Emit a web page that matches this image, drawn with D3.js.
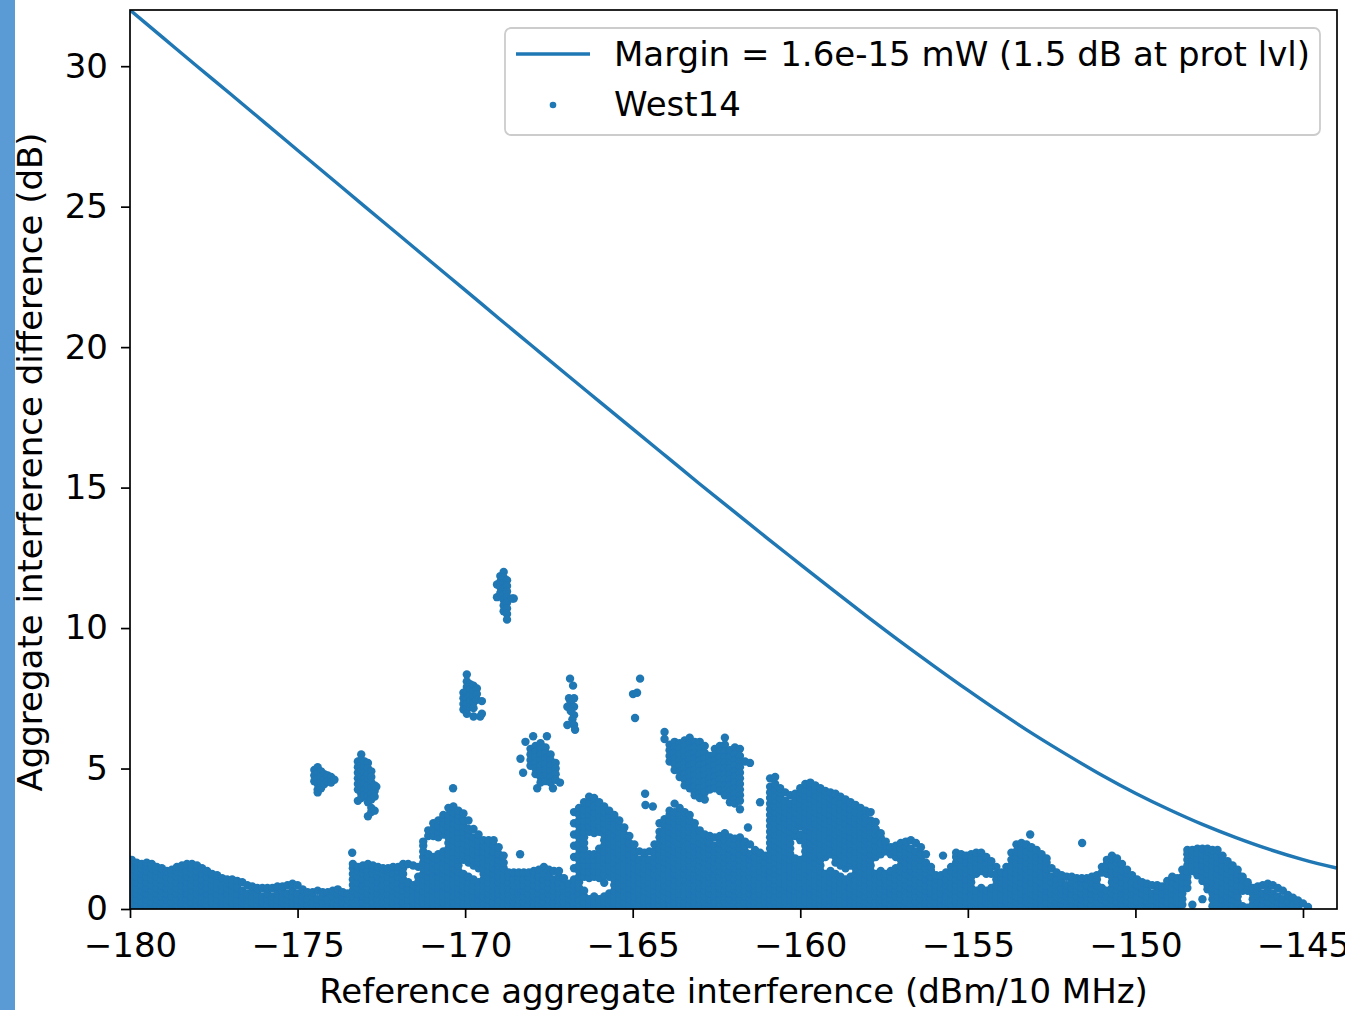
<!DOCTYPE html>
<html>
<head>
<meta charset="utf-8">
<script src="https://cdn.jsdelivr.net/npm/d3@7"></script>
<style>
  html, body { margin: 0; padding: 0; background: #ffffff; }
  svg { display: block; font-family: "DejaVu Sans", sans-serif; }
</style>
</head>
<body>
<svg id="chart" width="1345" height="1010"></svg>
<script>
// ---- axis ticks ----
const xTicks = [-180, -175, -170, -165, -160, -155, -150, -145];
const yTicks = [0, 5, 10, 15, 20, 25, 30];

// ---- margin curve (dB above reference, per 1 dB of reference level) ----
const marginX = [-180,-179,-178,-177,-176,-175,-174,-173,-172,-171,-170,-169,-168,-167,-166,-165,-164,-163,-162,-161,-160,-159,-158,-157,-156,-155,-154,-153,-152,-151,-150,-149,-148,-147,-146,-145,-144];
const marginY = [32.00,31.00,30.00,29.01,28.01,27.01,26.01,25.01,24.02,23.02,22.03,21.03,20.04,19.05,18.07,17.09,16.11,15.13,14.17,13.21,12.27,11.33,10.41,9.51,8.64,7.79,6.97,6.19,5.46,4.76,4.12,3.54,3.01,2.54,2.12,1.76,1.46];

// ---- West14 samples: dense low band, one column per reference level [x, y1, y2, ...] ----
const bandColumns = [
[-179.95,.05,.25,.45,.65,.85,1.05,1.25,1.45,1.65,1.75],
[-179.8,.15,.35,.55,.75,.95,1.15,1.35,1.55,1.65],
[-179.65,.05,.25,.45,.65,.85,1.05,1.25,1.45,1.6],
[-179.5,.15,.35,.55,.75,.95,1.15,1.35,1.55,1.65],
[-179.35,.05,.25,.45,.65,.85,1.05,1.25,1.45,1.6],
[-179.2,.15,.35,.55,.75,.95,1.15,1.35,1.5],
[-179.05,.05,.25,.45,.65,.85,1.05,1.25,1.45],
[-178.9,.15,.35,.55,.75,.95,1.15,1.35],
[-178.75,.05,.25,.45,.65,.85,1.05,1.25,1.4],
[-178.6,.15,.35,.55,.75,.95,1.15,1.35,1.5],
[-178.45,.05,.25,.45,.65,.85,1.05,1.25,1.45,1.55],
[-178.3,.15,.35,.55,.75,.95,1.15,1.35,1.6],
[-178.15,.05,.25,.45,.65,.85,1.05,1.25,1.45,1.6],
[-178,.15,.35,.55,.75,.95,1.15,1.35,1.55],
[-177.85,.05,.25,.45,.65,.85,1.05,1.25,1.45],
[-177.7,.15,.35,.55,.75,.95,1.15,1.35],
[-177.55,.05,.25,.45,.65,.85,1.05,1.25],
[-177.4,.15,.35,.55,.75,.95,1.2],
[-177.25,.05,.25,.45,.65,.85,1.1],
[-177.1,.15,.35,.55,.75,.95,1.05],
[-176.95,.05,.25,.45,.65,.85,1.05],
[-176.8,.15,.35,.55,.75,1],
[-176.65,.05,.25,.45,.65,.95],
[-176.5,.15,.35,.55,.85],
[-176.35,.05,.25,.45,.65,.8],
[-176.2,.15,.35,.55,.75],
[-176.05,.05,.25,.45,.75],
[-175.9,.15,.35,.55,.75],
[-175.75,.05,.25,.45,.75],
[-175.6,.15,.35,.55,.8],
[-175.45,.05,.25,.45,.65,.8],
[-175.3,.15,.35,.55,.85],
[-175.15,.05,.25,.45,.65,.9],
[-175,.15,.35,.55,.85],
[-174.85,.05,.25,.45,.7],
[-174.7,.15,.35,.6],
[-174.55,.05,.25,.45,.6],
[-174.4,.15,.35,.65],
[-174.25,.05,.25,.45,.6],
[-174.1,.15,.35,.6],
[-173.95,.05,.25,.45,.65],
[-173.8,.15,.35,.55,.7],
[-173.65,.05,.25,.45,.6],
[-173.5,.15,.35,.55],
[-173.35,.05,.25,.45,.65,.85,1.05,1.25,1.45,1.6],
[-173.2,.15,.35,.55,.75,.95,1.15,1.35,1.5],
[-173.05,.05,.25,.45,.65,.85,1.05,1.25,1.45,1.55],
[-172.9,.15,.35,.55,.75,.95,1.15,1.35,1.6],
[-172.75,.05,.25,.45,.65,.85,1.05,1.25,1.45,1.55],
[-172.6,.15,.35,.55,.75,.95,1.15,1.35,1.5],
[-172.45,.05,.25,.45,.65,.85,1.05,1.25,1.45],
[-172.3,.15,.35,.55,.75,.95,1.15,1.35,1.45],
[-172.15,.05,.25,.45,.65,.85,1.05,1.25,1.5],
[-172,.15,.35,.55,.75,.95,1.15,1.35,1.5],
[-171.85,.05,.25,.45,.65,.85,1.05,1.25,1.45,1.6],
[-171.7,.15,.35,.55,.75,.95,1.6],
[-171.55,.05,.25,.45,.65,.85,1.55],
[-171.4,.15,.35,.55,.75,.95,1.15,1.5],
[-171.25,.05,.25,.45,.65,.85,1.05,1.25,1.45,1.65,1.85,2.05,2.25,2.4],
[-171.1,.15,.35,.55,.75,.95,1.15,1.35,1.55,1.75,1.95,2.6,2.8],
[-170.95,.05,.25,.45,.65,.85,1.05,1.25,1.45,1.65,1.85,2.6,2.85,3.05],
[-170.8,.15,.35,.55,.75,.95,1.15,1.35,1.55,1.75,1.95,2.55,2.75,2.95,3.15],
[-170.65,.05,.25,.45,.65,.85,1.05,1.25,1.45,1.65,1.85,2.05,2.65,2.85,3.05,3.25,3.35],
[-170.5,.15,.35,.55,.75,.95,1.15,1.35,1.55,1.75,1.95,2.15,2.35,2.55,2.75,2.95,3.15,3.35,3.6],
[-170.35,.05,.25,.45,.65,.85,1.05,1.25,1.45,1.65,1.85,2.05,2.25,2.45,2.65,2.85,3.05,3.25,3.45,3.65],
[-170.2,.15,.35,.55,.75,.95,1.15,1.35,1.55,1.75,1.95,2.15,2.35,2.55,2.75,2.95,3.15,3.35,3.5],
[-170.05,.05,.25,.45,.65,.85,1.05,1.25,1.75,1.95,2.15,2.35,2.55,2.75,2.95,3.15,3.4],
[-169.9,.15,.35,.55,.75,.95,1.15,1.65,1.85,2.05,2.25,2.45,2.65,2.85,3.15],
[-169.75,.05,.25,.45,.65,.85,1.05,1.55,1.75,1.95,2.15,2.35,2.55,2.85],
[-169.6,.15,.35,.55,.75,.95,1.45,1.65,1.85,2.05,2.25,2.45,2.65],
[-169.45,.05,.25,.45,.65,.85,1.05,1.25,1.45,1.65,1.85,2.05,2.25,2.45],
[-169.3,.15,.35,.55,.75,.95,1.15,1.35,1.55,1.75,1.95,2.15,2.35,2.45],
[-169.15,.05,.25,.45,.65,.85,1.05,1.25,1.45,1.65,1.85,2.05,2.25,2.45],
[-169,.15,.35,.55,.75,.95,1.15,1.35,1.55,1.75,1.95,2.2],
[-168.85,.05,.25,.45,.65,.85,1.05,1.25,1.45,1.65,1.9],
[-168.7,.15,.35,.55,.75,.95,1.15,1.3],
[-168.55,.05,.25,.45,.65,.85,1.05,1.3],
[-168.4,.15,.35,.55,.75,.95,1.15,1.3],
[-168.25,.05,.25,.45,.65,.85,1.05,1.3],
[-168.1,.15,.35,.55,.75,.95,1.15,1.3],
[-167.95,.05,.25,.45,.65,.85,1.05,1.25,1.35],
[-167.8,.15,.35,.55,.75,.95,1.15,1.4],
[-167.65,.05,.25,.45,.65,.85,1.05,1.25,1.5],
[-167.5,.15,.35,.55,.75,.95,1.15,1.4],
[-167.35,.05,.25,.45,.65,.85,1.05,1.35],
[-167.2,.15,.35,.55,.75,.95,1.15,1.35],
[-167.05,.05,.25,.45,.65,.85,1.1],
[-166.9,.15,.35,.55,.75,.9],
[-166.75,.05,.25,.45,.65,.85,1.05,1.45,1.85,2.25,2.65,3.05,3.45],
[-166.6,.15,.35,.55,.75,.95,1.15,1.35,1.55,1.75,1.95,2.15,2.35,2.55,2.75,2.95,3.15,3.35,3.6],
[-166.45,.05,.25,.45,.65,1.15,1.35,1.55,1.75,1.95,2.15,2.35,2.55,2.75,2.95,3.15,3.35,3.55,3.8],
[-166.3,.15,.35,1.1,1.35,1.55,1.75,1.95,2.75,2.95,3.15,3.35,3.55,3.75,4],
[-166.15,.05,.25,.45,1.15,1.35,1.55,1.75,1.95,2.7,2.9,3.05,3.25,3.45,3.65,3.85,3.95],
[-166,.15,.35,1.1,1.35,1.55,1.75,1.95,2.15,2.75,2.95,3.15,3.35,3.55,3.8],
[-165.85,.05,.25,.45,.93,1.2,1.45,1.65,1.85,2.05,2.25,2.45,2.65,2.85,3.05,3.25,3.45,3.65],
[-165.7,.15,.35,.55,1.15,1.35,1.55,1.75,1.95,2.15,2.35,2.55,2.75,2.95,3.15,3.35,3.5],
[-165.55,.05,.25,.45,.65,.85,1.05,1.25,1.45,1.65,1.85,2.05,2.25,2.45,2.65,2.85,3.05,3.25,3.35],
[-165.4,.15,.35,.55,.75,.95,1.15,1.35,1.55,1.75,1.95,2.15,2.35,2.55,2.75,2.95,3.15],
[-165.25,.05,.25,.45,.65,.85,1.05,1.25,1.45,1.65,1.85,2.05,2.25,2.45,2.65,2.9],
[-165.1,.15,.35,.55,.75,.95,1.15,1.35,1.55,1.75,1.95,2.15,2.35,2.6],
[-164.95,.05,.25,.45,.65,.85,1.05,1.25,1.45,1.65,1.85,2.05,2.3],
[-164.8,.15,.35,.55,.75,.95,1.15,1.35,1.55,1.75,2.05],
[-164.65,.05,.25,.45,.65,.85,1.05,1.25,1.45,1.65,1.85,2],
[-164.5,.15,.35,.55,.75,.95,1.15,1.35,1.55,1.75,2.05],
[-164.35,.05,.25,.45,.65,.85,1.05,1.25,1.45,1.65,1.85,2.05,2.3],
[-164.2,.15,.35,.55,.75,.95,1.15,1.35,1.55,1.75,1.95,2.15,2.35,2.55,2.75,3.05],
[-164.05,.05,.25,.45,.65,.85,1.05,1.25,1.45,1.65,1.85,2.05,2.25,2.45,2.65,2.85,3.05,3.2],
[-163.9,.15,.35,.55,.75,.95,1.15,1.35,1.55,1.75,1.95,2.15,2.35,2.55,2.75,2.95,3.15,3.35,3.5],
[-163.75,.05,.25,.45,.65,.85,1.05,1.25,1.45,1.65,1.85,2.05,2.25,2.45,2.65,2.85,3.05,3.25,3.45,3.75],
[-163.6,.15,.35,.55,.75,.95,1.15,1.35,1.55,1.75,1.95,2.15,2.35,2.55,2.75,2.95,3.15,3.35,3.6],
[-163.45,.05,.25,.45,.65,.85,1.05,1.25,1.45,1.65,1.85,2.05,2.25,2.45,2.65,2.85,3.05,3.25,3.45],
[-163.3,.15,.35,.55,.75,.95,1.15,1.35,1.55,1.75,1.95,2.15,2.35,2.55,2.75,2.95,3.15,3.35],
[-163.15,.05,.25,.45,.65,.85,1.05,1.25,1.45,1.65,1.85,2.05,2.25,2.45,2.65,2.85,3.05],
[-163,.15,.35,.55,.75,.95,1.15,1.35,1.55,1.75,1.95,2.15,2.35,2.55,2.8],
[-162.85,.05,.25,.45,.65,.85,1.05,1.25,1.45,1.65,1.85,2.05,2.25,2.45,2.65],
[-162.7,.15,.35,.55,.75,.95,1.15,1.35,1.55,1.75,1.95,2.15,2.35,2.6],
[-162.55,.05,.25,.45,.65,.85,1.05,1.25,1.45,1.65,1.85,2.05,2.25,2.55],
[-162.4,.15,.35,.55,.75,.95,1.15,1.35,1.55,1.75,1.95,2.15,2.35,2.6],
[-162.25,.05,.25,.45,.65,.85,1.05,1.25,1.45,1.65,1.85,2.05,2.25,2.45,2.7],
[-162.1,.15,.35,.55,.75,.95,1.15,1.35,1.55,1.75,1.95,2.15,2.35,2.55],
[-161.95,.05,.25,.45,.65,.85,1.05,1.25,1.45,1.65,1.85,2.05,2.25,2.5],
[-161.8,.15,.35,.55,.75,.95,1.15,1.35,1.55,1.75,1.95,2.15,2.35,2.55],
[-161.65,.05,.25,.45,.65,.85,1.05,1.25,1.45,1.65,1.85,2.05,2.25,2.4],
[-161.5,.15,.35,.55,.75,.95,1.15,1.35,1.55,1.75,1.95,2.3],
[-161.35,.05,.25,.45,.65,.85,1.05,1.25,1.45,1.65,1.85,2.1],
[-161.2,.15,.35,.55,.75,.95,1.15,1.35,1.55,1.75,2],
[-161.05,.05,.25,.45,.65,.85,1.05,1.25,1.45,1.65,1.9],
[-160.9,.15,.35,.55,.75,.95,1.15,1.35,1.55,1.75,1.95,2.15,2.35,2.55,2.75,2.95,3.15,3.35,3.55,3.75,3.95,4.15,4.35,4.65],
[-160.75,.05,.25,.45,.65,.85,1.05,1.25,1.45,1.65,1.85,2.05,2.25,2.45,2.65,2.85,3.05,3.25,3.45,3.65,3.85,4.05,4.25,4.45,4.7],
[-160.6,.15,.35,.55,.75,.95,1.15,1.35,1.55,1.75,1.95,2.15,2.35,2.55,2.75,2.95,3.15,3.35,3.55,3.75,3.95,4.15,4.3],
[-160.45,.05,.25,.45,.65,.85,1.05,1.25,1.45,1.65,1.85,2.05,2.25,2.45,2.65,2.85,3.05,3.25,3.45,3.65,3.85,4.15],
[-160.3,.15,.35,.55,.75,.95,1.15,1.35,1.55,1.75,1.95,2.15,2.35,2.55,2.75,2.95,3.15,3.35,3.55,3.75,4.05],
[-160.15,.05,.25,.45,.65,.85,1.05,1.25,1.45,1.65,1.8,2.6,2.85,3.05,3.25,3.45,3.65,3.85,4.1],
[-160,.15,.35,.55,.75,.95,1.15,1.35,1.55,1.75,2.45,2.65,2.95,3.15,3.35,3.55,3.75,3.95,4.15,4.3],
[-159.85,.05,.25,.45,.65,.85,1.05,1.25,1.45,1.65,1.85,2.05,2.25,2.45,2.65,2.85,3.05,3.25,3.45,3.65,3.85,4.05,4.25,4.45],
[-159.7,.15,.35,.55,.75,.95,1.15,1.35,1.55,1.75,1.95,2.15,2.35,2.55,2.75,2.95,3.15,3.35,3.55,3.75,3.95,4.15,4.35,4.5],
[-159.55,.05,.25,.45,.65,.85,1.05,1.25,1.45,1.65,1.85,2.05,2.25,2.45,2.65,2.85,3.05,3.25,3.45,3.65,3.85,4.05,4.25,4.4],
[-159.4,.15,.35,.55,.75,.95,1.15,1.35,1.55,1.75,1.95,2.15,2.35,2.55,2.75,2.95,3.15,3.35,3.55,3.75,3.95,4.15,4.3],
[-159.25,.05,.25,.45,.65,.85,1.05,1.25,1.85,2.05,2.25,2.45,2.65,2.85,3.05,3.25,3.45,3.65,3.85,4.05,4.2],
[-159.1,.15,.35,.55,.75,.95,1.15,1.35,1.95,2.15,2.35,2.55,2.75,2.95,3.15,3.35,3.55,3.75,3.95,4.15],
[-158.95,.05,.25,.45,.65,.85,1.05,1.25,1.65,1.85,2.05,2.25,2.45,2.65,2.85,3.05,3.25,3.45,3.65,3.85,4.1],
[-158.8,.15,.35,.55,.75,.95,1.15,1.55,1.75,1.95,2.15,2.35,2.55,2.75,2.95,3.15,3.35,3.55,3.75,4],
[-158.65,.05,.25,.45,.65,.85,1.05,1.45,1.65,1.85,2.05,2.25,2.45,2.65,2.85,3.05,3.25,3.45,3.65,3.9],
[-158.5,.15,.35,.55,.75,.95,1.15,1.55,1.75,1.95,2.15,2.35,2.55,2.75,2.95,3.15,3.35,3.55,3.8],
[-158.35,.05,.25,.45,.65,.85,1.05,1.25,1.45,1.65,1.85,2.05,2.25,2.45,2.65,2.85,3.05,3.25,3.45,3.7],
[-158.2,.15,.35,.55,.75,.95,1.15,1.35,1.55,1.75,1.95,2.15,2.35,2.55,2.75,2.95,3.15,3.35,3.6],
[-158.05,.05,.25,.45,.65,.85,1.05,1.25,1.45,1.65,1.85,2.05,2.25,2.45,2.65,2.85,3.05,3.25,3.5],
[-157.9,.15,.35,.55,.75,.95,1.15,1.35,1.55,1.75,1.95,2.15,2.35,2.55,2.75,2.95,3.15,3.45],
[-157.75,.05,.25,.45,.65,.85,1.05,1.25,1.85,2.05,2.25,2.45,2.65,2.85,3.1],
[-157.6,.15,.35,.55,.75,.95,1.15,1.35,1.95,2.15,2.35,2.55,2.7],
[-157.45,.05,.25,.45,.65,.85,1.05,1.25,2.05,2.25,2.4],
[-157.3,.15,.35,.55,.75,.95,1.15,1.35,1.95,2.2],
[-157.15,.05,.25,.45,.65,.85,1.05,1.25,1.45,1.85,2.05,2.25],
[-157,.15,.35,.55,.75,.95,1.15,1.35,1.55,1.75,1.95,2.15,2.35],
[-156.85,.05,.25,.45,.65,.85,1.05,1.25,1.45,1.65,1.85,2.05,2.25,2.4],
[-156.7,.15,.35,.55,.75,.95,1.15,1.35,1.55,1.75,1.95,2.15,2.45],
[-156.55,.05,.25,.45,.65,.85,1.05,1.25,1.45,1.65,1.85,2.05,2.35],
[-156.4,.15,.35,.55,.75,.95,1.15,1.35,1.55,1.75,1.95,2.2],
[-156.25,.05,.25,.45,.65,.85,1.05,1.25,1.45,1.65,1.95],
[-156.1,.15,.35,.55,.75,.95,1.15,1.35,1.5],
[-155.95,.05,.25,.45,.65,.85,1.05,1.2],
[-155.8,.15,.35,.55,.75,.95,1.2],
[-155.65,.05,.25,.45,.65,.85,1.05,1.3],
[-155.5,.15,.35,.55,.75,.95,1.15,1.35,1.5],
[-155.35,.05,.25,.45,.65,.85,1.05,1.25,1.45,1.65,1.85,2],
[-155.2,.15,.35,.55,.75,.95,1.15,1.35,1.55,1.75,1.95],
[-155.05,.05,.25,.45,.65,.85,1.05,1.25,1.45,1.65,1.9],
[-154.9,.15,.35,.55,.75,.95,1.15,1.35,1.55,1.75,1.95],
[-154.75,.05,.25,.45,.65,1.25,1.45,1.65,1.85,2],
[-154.6,.15,.35,.55,.75,1.35,1.55,1.75,2],
[-154.45,.05,.25,.45,.65,1.25,1.45,1.65,1.85],
[-154.3,.15,.35,.55,.75,1.25,1.5,1.7],
[-154.15,.05,.25,.45,.65,.85,1.05,1.25,1.5],
[-154,.15,.35,.55,.75,.95,1.15,1.3],
[-153.85,.05,.25,.45,.65,.85,1.05,1.25,1.5],
[-153.7,.15,.35,.55,.75,.95,1.15,1.35,1.55,1.75,2],
[-153.55,.05,.25,.45,.65,.85,1.05,1.25,1.45,1.65,1.85,2.05,2.3],
[-153.4,.15,.35,.55,.75,.95,1.15,1.35,1.55,1.75,1.95,2.15,2.35],
[-153.25,.05,.25,.45,.65,.85,1.05,1.25,1.45,1.65,1.85,2.05,2.3],
[-153.1,.15,.35,.55,.75,.95,1.15,1.35,1.55,1.75,1.95,2.2],
[-152.95,.05,.25,.45,.65,.85,1.05,1.25,1.45,1.65,1.85,2.1],
[-152.8,.15,.35,.55,.75,.95,1.15,1.35,1.55,1.75,1.95],
[-152.65,.05,.25,.45,.65,.85,1.05,1.25,1.45,1.65,1.8],
[-152.5,.15,.35,.55,.75,.95,1.15,1.45],
[-152.35,.05,.25,.45,.65,.85,1.05,1.3],
[-152.2,.15,.35,.55,.75,.95,1.2],
[-152.05,.05,.25,.45,.65,.85,1.15],
[-151.9,.15,.35,.55,.75,.95,1.15],
[-151.75,.05,.25,.45,.65,.85,1.1],
[-151.6,.15,.35,.55,.75,.95,1.1],
[-151.45,.05,.25,.45,.65,.85,1.1],
[-151.3,.15,.35,.55,.75,.95,1.15],
[-151.15,.05,.25,.45,.65,.85,1.05,1.2],
[-151,.15,.35,.55,.75,1.3,1.5],
[-150.85,.05,.25,.45,.65,1.25,1.45,1.6,1.75],
[-150.7,.15,.35,.55,.75,.95,1.15,1.35,1.55,1.75,1.9],
[-150.55,.05,.25,.45,.65,.85,1.05,1.25,1.45,1.65,1.8],
[-150.4,.15,.35,.55,.75,.95,1.15,1.35,1.6],
[-150.25,.05,.25,.45,.65,.85,1.05,1.25,1.4],
[-150.1,.15,.35,.55,.75,.95,1.2],
[-149.95,.05,.25,.45,.65,.85,1.05],
[-149.8,.15,.35,.55,.75,.95],
[-149.65,.05,.25,.45,.65,.9],
[-149.5,.15,.35,.55,.85],
[-149.35,.05,.25,.45,.65,.85],
[-149.2,.15,.35,.55,.8],
[-149.05,.05,.25,.45,.65,.85,1],
[-148.9,.15,.35,.55,.75,.95,1.15],
[-148.75,.05,.25,.45,.65,.85,1.1],
[-148.6,.15,.35,.55,.75,.95,1.15,1.4],
[-148.45,.75,.95,1.15,1.35,1.55,1.75,1.95,2.1],
[-148.3,.15,1.35,1.55,1.75,1.95,2.1],
[-148.15,1.2,1.4,1.6,1.8,2,2.15],
[-148,.35,1.0,1.15,1.35,1.55,1.75,1.95,2.15],
[-147.85,.7,.85,1.05,1.25,1.45,1.65,1.85,2.05,2.15],
[-147.7,.1,.35,.55,.75,.95,1.15,1.35,1.55,1.75,1.95,2.1],
[-147.55,.05,.25,.45,.65,.85,1.05,1.25,1.45,1.65,1.85,2.1],
[-147.4,.15,.35,.55,.75,.95,1.15,1.35,1.55,1.75,1.9],
[-147.25,.05,.25,.45,.65,.85,1.05,1.25,1.45,1.7],
[-147.1,.15,.35,.55,.75,.95,1.15,1.35,1.55],
[-146.95,.05,.25,.45,.65,.85,1.05,1.25,1.4],
[-146.8,.1,.65,.85,1.05,1.15],
[-146.65,.05,.65,.85,.95],
[-146.5,.15,.35,.55,.75],
[-146.35,.05,.25,.45,.65,.8],
[-146.2,.15,.35,.55,.85],
[-146.05,.05,.25,.45,.65,.9],
[-145.9,.15,.35,.55,.85],
[-145.75,.05,.25,.45,.75],
[-145.6,.15,.35,.65],
[-145.45,.05,.25,.5],
[-145.3,.15,.4],
[-145.15,.05,.3],
[-145,.2],
[-144.85,.07]
];

// ---- West14 samples: raised groups above the band, [x, y] ----
const groupNear174 = [
[-174.5,4.95],[-174.5,4.75],[-174.5,4.55],
[-174.4,5.05],[-174.4,4.85],[-174.4,4.65],[-174.4,4.45],[-174.4,4.25],[-174.4,4.15],
[-174.3,4.9],[-174.3,4.7],[-174.3,4.5],[-174.3,4.3],
[-174.2,4.8],[-174.2,4.6],[-174.2,4.45],
[-174.1,4.75],[-174.1,4.55],
[-174.0,4.7],[-174.0,4.5],
[-173.9,4.6]
];
const groupNear173 = [
[-173.2,5.25],[-173.2,5.05],[-173.2,4.85],[-173.2,4.65],[-173.2,4.45],[-173.2,4.25],[-173.2,3.85],
[-173.1,5.5],[-173.1,5.3],[-173.1,5.1],[-173.1,4.9],[-173.1,4.7],[-173.1,4.5],[-173.1,4.3],[-173.1,4.1],[-173.1,3.95],
[-173.0,5.25],[-173.0,5.05],[-173.0,4.85],[-173.0,4.65],[-173.0,4.45],[-173.0,4.25],[-173.0,4.05],
[-172.9,5.2],[-172.9,5.0],[-172.9,4.8],[-172.9,4.6],[-172.9,4.4],[-172.9,4.2],[-172.9,4.0],[-172.9,3.8],[-172.9,3.3],
[-172.8,4.9],[-172.8,4.7],[-172.8,4.5],[-172.8,4.3],[-172.8,4.1],[-172.8,3.9],[-172.8,3.6],[-172.8,3.45],
[-172.7,4.4],[-172.7,4.2],[-172.7,4.0],[-172.7,3.5],[-172.65,4.35]
];
const groupNear170 = [
[-170.05,7.7],[-170.05,7.5],[-170.05,7.3],[-170.05,7.1],
[-169.95,8.35],[-169.95,8.1],[-169.95,7.9],[-169.95,7.7],[-169.95,7.5],[-169.95,7.3],[-169.95,7.1],[-169.95,6.95],
[-169.85,8.0],[-169.85,7.8],[-169.85,7.6],[-169.85,7.4],[-169.85,7.2],
[-169.75,7.95],[-169.75,7.75],[-169.75,7.55],[-169.75,7.35],[-169.75,7.15],[-169.75,6.85],
[-169.65,7.85],[-169.65,7.65],[-169.65,7.45],
[-169.55,6.85],[-169.5,7.4],[-169.5,6.95]
];
const groupNear169 = [
[-169.05,11.1],[-169.05,11.55],
[-168.95,11.85],[-168.95,11.65],[-168.95,11.45],[-168.95,11.25],
[-168.85,12.0],[-168.85,11.8],[-168.85,11.6],[-168.85,11.4],[-168.85,11.2],[-168.85,11.0],[-168.85,10.8],[-168.85,10.6],
[-168.75,11.7],[-168.75,11.5],[-168.75,11.3],[-168.75,11.1],[-168.75,10.9],[-168.75,10.7],[-168.75,10.5],[-168.75,10.3],
[-168.6,11.05],[-168.55,11.05]
];
const groupNear168 = [
[-167.97,6.15],[-167.56,6.15],[-168.2,5.95],[-168.35,5.35],[-168.27,4.85],[-167.85,4.3],[-167.38,4.3],[-167.17,4.5],
[-168.05,5.7],[-168.05,5.5],[-168.05,5.3],[-168.05,5.1],
[-167.9,5.8],[-167.9,5.6],[-167.9,5.4],[-167.9,5.2],[-167.9,5.0],[-167.9,4.8],
[-167.75,5.9],[-167.75,5.7],[-167.75,5.5],[-167.75,5.3],[-167.75,5.1],[-167.75,4.9],[-167.75,4.7],[-167.75,4.5],
[-167.6,5.75],[-167.6,5.55],[-167.6,5.35],[-167.6,5.15],[-167.6,4.95],[-167.6,4.75],[-167.6,4.55],
[-167.45,5.5],[-167.45,5.3],[-167.45,5.1],[-167.45,4.9],[-167.45,4.7],[-167.45,4.5],
[-167.3,5.2],[-167.3,5.0],[-167.3,4.8],[-167.3,4.6]
];
const groupNear167 = [[-166.87,8.2],[-166.78,7.95],[-166.9,7.5],[-166.75,7.5],[-166.85,7.35],[-166.95,7.2],[-166.75,7.2],[-166.85,7.05],[-166.75,6.9],[-166.8,6.75],[-166.95,6.55],[-166.75,6.55],[-166.72,6.38]];
const groupNear163 = [
[-164.05,6.3],[-164.05,6.05],
[-163.9,5.85],[-163.9,5.65],[-163.9,5.45],[-163.9,5.25],
[-163.75,5.95],[-163.75,5.75],[-163.75,5.55],[-163.75,5.35],[-163.75,5.15],[-163.75,4.95],
[-163.6,5.9],[-163.6,5.7],[-163.6,5.5],[-163.6,5.3],[-163.6,5.1],[-163.6,4.9],[-163.6,4.7],
[-163.45,6.0],[-163.45,5.8],[-163.45,5.6],[-163.45,5.4],[-163.45,5.2],[-163.45,5.0],[-163.45,4.8],[-163.45,4.6],[-163.45,4.4],
[-163.3,6.1],[-163.3,5.9],[-163.3,5.7],[-163.3,5.5],[-163.3,5.3],[-163.3,5.1],[-163.3,4.9],[-163.3,4.7],[-163.3,4.5],[-163.3,4.3],
[-163.15,5.95],[-163.15,5.75],[-163.15,5.55],[-163.15,5.35],[-163.15,5.15],[-163.15,4.95],[-163.15,4.75],[-163.15,4.55],[-163.15,4.35],[-163.15,4.15],[-163.15,4.05],
[-163.0,5.95],[-163.0,5.7],[-163.0,5.5],[-163.0,5.3],[-163.0,5.1],[-163.0,4.9],[-163.0,4.7],[-163.0,4.5],[-163.0,4.3],[-163.0,4.1],[-163.0,3.95],
[-162.85,5.8],[-162.85,5.55],[-162.85,5.35],[-162.85,5.15],[-162.85,4.95],[-162.85,4.75],[-162.85,4.55],[-162.85,4.35],[-162.85,4.15],[-162.85,3.9],
[-162.7,5.45],[-162.7,5.25],[-162.7,5.05],[-162.7,4.85],[-162.7,4.65],[-162.7,4.45],[-162.7,4.25],
[-162.55,5.7],[-162.55,5.5],[-162.55,5.3],[-162.55,5.1],[-162.55,4.9],[-162.55,4.7],[-162.55,4.5],[-162.55,4.3],
[-162.4,5.8],[-162.4,5.6],[-162.4,5.4],[-162.4,5.2],[-162.4,5.0],[-162.4,4.8],[-162.4,4.6],[-162.4,4.4],[-162.4,4.2],
[-162.25,6.1],[-162.25,5.85],[-162.25,5.6],[-162.25,5.4],[-162.25,5.2],[-162.25,5.0],[-162.25,4.8],[-162.25,4.6],[-162.25,4.4],[-162.25,4.2],[-162.25,4.05],
[-162.1,5.65],[-162.1,5.4],[-162.1,5.2],[-162.1,5.0],[-162.1,4.8],[-162.1,4.6],[-162.1,4.4],[-162.1,4.2],[-162.1,4.0],[-162.1,3.8],
[-161.95,5.75],[-161.95,5.5],[-161.95,5.3],[-161.95,5.1],[-161.95,4.9],[-161.95,4.7],[-161.95,4.5],[-161.95,4.3],[-161.95,4.1],[-161.95,3.9],[-161.95,3.75],
[-161.8,5.7],[-161.8,5.45],[-161.8,5.25],[-161.8,5.05],[-161.8,4.85],[-161.8,4.65],[-161.8,4.45],[-161.8,4.25],[-161.8,4.05],[-161.8,3.85],[-161.8,3.55],
[-161.65,5.25],[-161.5,5.2]
];
const scatteredDots = [[-173.37,2.0],[-170.36,4.3],[-168.36,1.95],[-164.78,8.2],[-164.99,7.65],[-164.87,7.7],[-164.93,6.8],[-164.63,4.1],[-164.62,3.7],[-164.4,3.65],[-161.2,3.8],[-161.56,2.9],[-155.74,1.9],[-153.14,2.65],[-151.59,2.35]];

// ---- layout ----
const W = 1345, H = 1010;
const plotLeft = 130, plotRight = 1337, plotTop = 10, plotBottom = 909;
const blue = "#1f77b4";
const fontPx = 34;
const dotR = 4.2;

const svg = d3.select("#chart");
svg.append("rect").attr("width", W).attr("height", H).attr("fill", "#ffffff");
// page edge strip
svg.append("rect").attr("x", 0).attr("y", 0).attr("width", 15).attr("height", H).attr("fill", "#5b9bd5");

const x = d3.scaleLinear().domain([-180, -143.985]).range([plotLeft, plotRight]);
const y = d3.scaleLinear().domain([0, 32]).range([plotBottom, plotTop]);

svg.append("clipPath").attr("id", "plotClip")
  .append("rect").attr("x", plotLeft).attr("y", plotTop)
  .attr("width", plotRight - plotLeft).attr("height", plotBottom - plotTop);

const plot = svg.append("g").attr("clip-path", "url(#plotClip)");

// margin curve
const curve = d3.line().x(d => x(d[0])).y(d => y(d[1])).curve(d3.curveMonotoneX);
plot.append("path")
  .datum(marginX.map((v, i) => [v, marginY[i]]))
  .attr("d", curve).attr("fill", "none")
  .attr("stroke", blue).attr("stroke-width", 3.4);

// scatter
const points = [];
bandColumns.forEach(([cx, ...ys]) => ys.forEach(v => points.push([cx, v])));
[groupNear174, groupNear173, groupNear170, groupNear169, groupNear168, groupNear167, groupNear163, scatteredDots]
  .forEach(g => g.forEach(p => points.push(p)));

plot.append("g").selectAll("circle").data(points).join("circle")
  .attr("cx", d => x(d[0])).attr("cy", d => y(d[1]))
  .attr("r", dotR).attr("fill", blue);

// axes
const xAxis = d3.axisBottom(x).tickValues(xTicks).tickSize(9).tickPadding(6)
  .tickFormat(d3.format("d"));
const gx = svg.append("g").attr("transform", `translate(0,${plotBottom})`).call(xAxis);
const yAxis = d3.axisLeft(y).tickValues(yTicks).tickSize(9).tickPadding(13)
  .tickFormat(d3.format("d"));
const gy = svg.append("g").attr("transform", `translate(${plotLeft},0)`).call(yAxis);

[gx, gy].forEach(g => {
  g.select(".domain").remove();
  g.selectAll(".tick line").attr("stroke", "#000").attr("stroke-width", 1.7);
  g.selectAll(".tick text").attr("fill", "#000")
    .style("font-size", fontPx + "px").style("font-family", "'DejaVu Sans', sans-serif");
});
gx.selectAll(".tick text").attr("y", 24).attr("dy", "0.71em");

// frame
svg.append("rect").attr("x", plotLeft).attr("y", plotTop)
  .attr("width", plotRight - plotLeft).attr("height", plotBottom - plotTop)
  .attr("fill", "none").attr("stroke", "#000").attr("stroke-width", 1.7);

// axis titles
svg.append("text").attr("x", (plotLeft + plotRight) / 2).attr("y", 1003)
  .attr("text-anchor", "middle").style("font-size", fontPx + "px")
  .text("Reference aggregate interference (dBm/10 MHz)");
svg.append("text").attr("transform", `translate(42,462) rotate(-90)`)
  .attr("text-anchor", "middle").style("font-size", fontPx + "px")
  .text("Aggregate interference difference (dB)");

// legend
const lg = svg.append("g");
lg.append("rect").attr("x", 505).attr("y", 28).attr("width", 815).attr("height", 107)
  .attr("rx", 6).attr("fill", "#ffffff").attr("fill-opacity", 0.8)
  .attr("stroke", "#cccccc").attr("stroke-width", 1.8);
lg.append("line").attr("x1", 516).attr("x2", 590).attr("y1", 54).attr("y2", 54)
  .attr("stroke", blue).attr("stroke-width", 3.4);
lg.append("circle").attr("cx", 553).attr("cy", 105).attr("r", 3.3).attr("fill", blue);
lg.append("text").attr("x", 614).attr("y", 54).attr("dy", "0.36em")
  .style("font-size", fontPx + "px").text("Margin = 1.6e-15 mW (1.5 dB at prot lvl)");
lg.append("text").attr("x", 614).attr("y", 104).attr("dy", "0.36em")
  .style("font-size", fontPx + "px").text("West14");
</script>
</body>
</html>
